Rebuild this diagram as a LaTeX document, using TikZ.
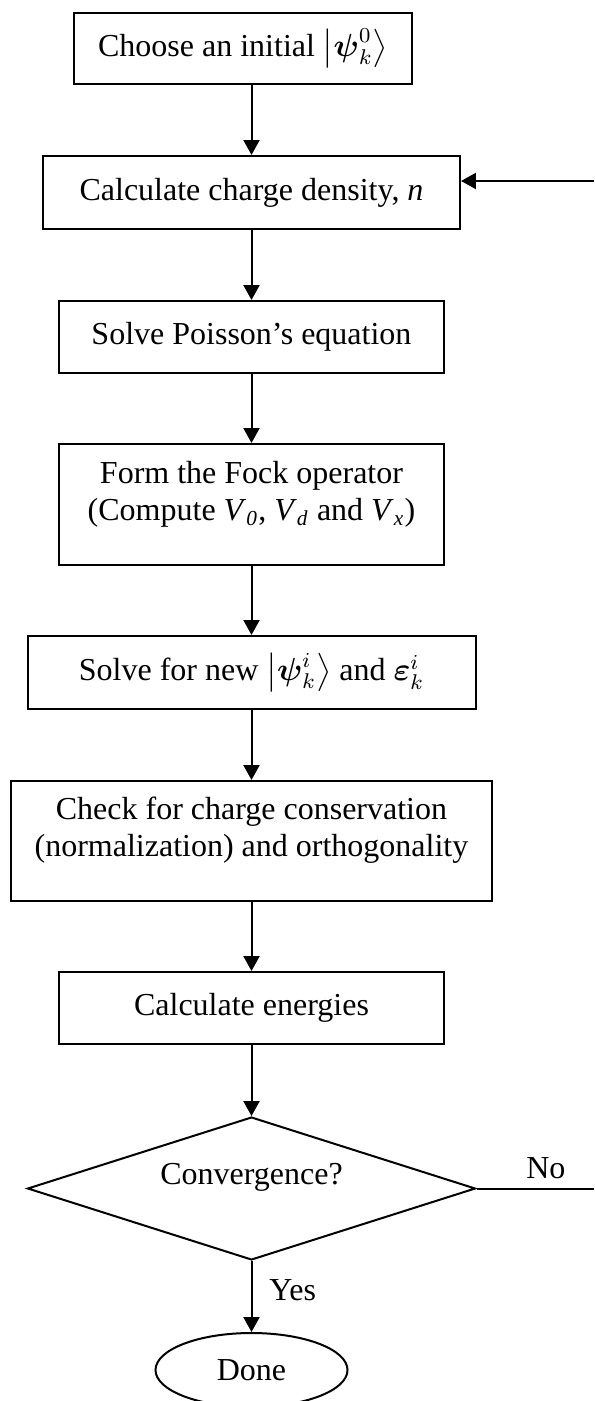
\documentclass[tikz,border=0pt]{standalone}
\usepackage{amsmath}
\usepackage{fontspec}
\setmainfont{Liberation Serif}
\usetikzlibrary{shapes.geometric,arrows.meta}
\tikzset{
  every node/.style={
    text=black, font=\fontsize{12}{13.9}\selectfont
  },
  stepbox/.style={draw, line width=0.75pt, inner sep=0pt, align=center},
  flow/.style={line width=0.75pt, -{Triangle[length=5.6pt,width=6pt]}}
}

\begin{document}
\begin{tikzpicture}[x=0.375pt,y=-0.375pt]
    %\draw[gray, very thin] (0,0) grid[step=50] (594,1401);
    \useasboundingbox (0,0) rectangle (594,1401);
    \node (choose) [stepbox, minimum width=126.75pt, minimum height=26.6pt] at (243,48.5)
        {Choose an initial $\left|\boldsymbol{\psi}_k^0\right\rangle$};
    \node (calc) [stepbox, minimum width=156.4pt, minimum height=27.4pt] at (251.5,192.5)
        {Calculate charge density, \textit{n}};
    \node (poisson) [stepbox, minimum width=144.4pt, minimum height=27pt] at (251.5,337)
        {Solve Poisson’s equation};
    \node (fock) [stepbox, minimum width=144.4pt, minimum height=45.4pt, text depth=10pt] at (251.5,504.5)
        {Form the Fock operator\\(Compute \textit{V}\textsubscript{\textit{0}}, \textit{V}\textsubscript{\textit{d}} and \textit{V}\textsubscript{\textit{x}})};
    \node (solve) [stepbox, minimum width=168pt, minimum height=27.4pt] at (251.5,672.5)
        {Solve for new $\left|\boldsymbol{\psi}_k^i\right\rangle$ and $\boldsymbol{\varepsilon}_k^i$};
    \node (check) [stepbox, minimum width=180.4pt, minimum height=45pt, text depth=10.4pt] at (251.5,841)
        {Check for charge conservation\\(normalization) and orthogonality};
    \node (energy) [stepbox, minimum width=144.4pt, minimum height=27pt] at (251.5,1008)
        {Calculate energies};
    \node (conv) [stepbox, diamond, aspect=3.13, minimum width=168pt, minimum height=53.6pt, text depth=10.8pt] at (251.5,1188.5)
        {Convergence?};
    \node (done) [stepbox, ellipse, minimum width=72pt, minimum height=27.75pt] at (251.5,1370)
        {Done};

    % main path
    \draw [flow] (choose.south -| calc.north) -- (calc.north);
    \draw [flow] (calc.south) -- (poisson.north);
    \draw [flow] (poisson.south) -- (fock.north);
    \draw [flow] (fock.south) -- (solve.north);
    \draw [flow] (solve.south) -- (check.north);
    \draw [flow] (check.south) -- (energy.north);
    \draw [flow] (energy.south) -- (conv.north);
    \draw [flow] (conv.south) -- (done.north) node [pos=0.41, right=3pt] {Yes};

    % loop back
    \coordinate (noend) at (594,1188.5);
    \coordinate (backin) at (594,181);
    \draw [line width=0.75pt] (conv.east) -- (noend) node [pos=0.59, above] {No};
    \draw [flow] (backin) -- (backin -| calc.east);
\end{tikzpicture}
\end{document}
